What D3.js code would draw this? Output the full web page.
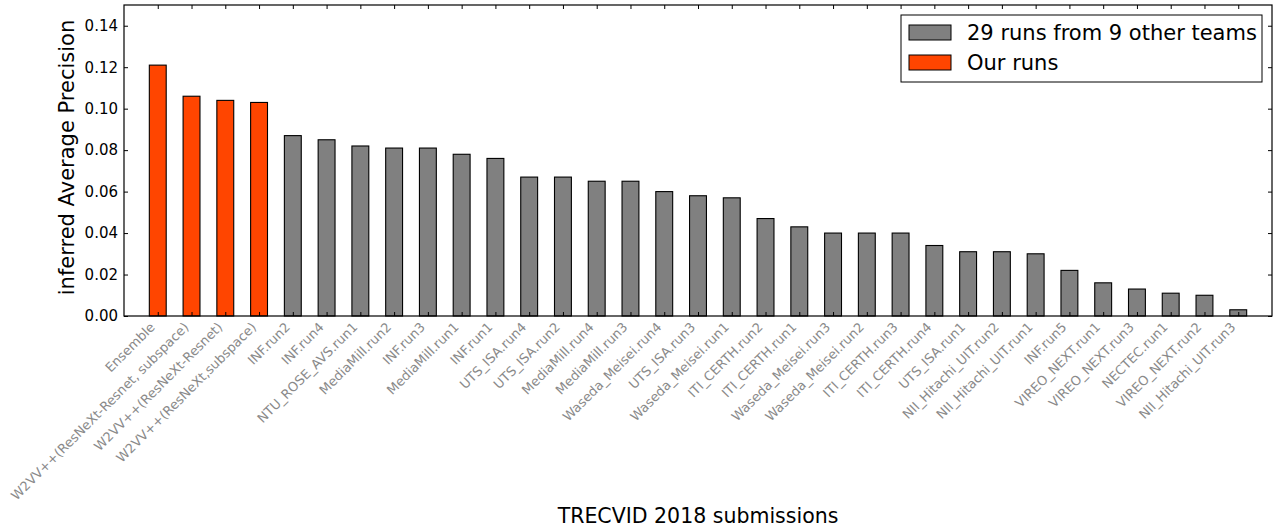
<!DOCTYPE html>
<html>
<head>
<meta charset="utf-8">
<script src="https://cdn.jsdelivr.net/npm/d3@7"></script>
<style>
  html, body { margin: 0; padding: 0; background: #fff; }
  svg { display: block; font-family: "DejaVu Sans", sans-serif; }
</style>
</head>
<body>
<svg id="chart" width="1276" height="529"></svg>
<script>
// Run names, in ranked order (our runs first)
const runs = [
  "Ensemble",
  "W2VV++(ResNeXt-Resnet, subspace)",
  "W2VV++(ResNeXt-Resnet)",
  "W2VV++(ResNeXt,subspace)",
  "INF.run2", "INF.run4", "NTU_ROSE_AVS.run1", "MediaMill.run2", "INF.run3",
  "MediaMill.run1", "INF.run1", "UTS_ISA.run4", "UTS_ISA.run2", "MediaMill.run4",
  "MediaMill.run3", "Waseda_Meisei.run4", "UTS_ISA.run3", "Waseda_Meisei.run1",
  "ITI_CERTH.run2", "ITI_CERTH.run1", "Waseda_Meisei.run3", "Waseda_Meisei.run2",
  "ITI_CERTH.run3", "ITI_CERTH.run4", "UTS_ISA.run1", "NII_Hitachi_UIT.run2",
  "NII_Hitachi_UIT.run1", "INF.run5", "VIREO_NEXT.run1", "VIREO_NEXT.run3",
  "NECTEC.run1", "VIREO_NEXT.run2", "NII_Hitachi_UIT.run3"
];

// inferred Average Precision per run
const infAP = [
  0.121, 0.106, 0.104, 0.103,
  0.087, 0.085, 0.082, 0.081, 0.081,
  0.078, 0.076, 0.067, 0.067, 0.065,
  0.065, 0.060, 0.058, 0.057,
  0.047, 0.043, 0.040, 0.040,
  0.040, 0.034, 0.031, 0.031,
  0.030, 0.022, 0.016, 0.013,
  0.011, 0.010, 0.003
];

// true = one of our runs
const isOurs = runs.map((r, i) => i < 4);

const yTicks = [0.00, 0.02, 0.04, 0.06, 0.08, 0.10, 0.12, 0.14];

const legendLabels = ["29 runs from 9 other teams", "Our runs"];
const legendColors = ["#808080", "#ff4500"];

const W = 1276, H = 529;
const margin = { top: 5, right: 4, bottom: 213, left: 124 };
const iw = W - margin.left - margin.right;
const ih = H - margin.top - margin.bottom;

const svg = d3.select("#chart");
const g = svg.append("g").attr("transform", `translate(${margin.left},${margin.top})`);

// bars sit at positions 1..N, axis spans 0..N+1
const x = d3.scaleLinear().domain([0, runs.length + 1]).range([0, iw]);
const y = d3.scaleLinear().domain([0, 0.15]).range([ih, 0]);
const barW = x(0.5) - x(0);

// bars
g.selectAll("rect.bar")
  .data(infAP)
  .join("rect")
  .attr("class", "bar")
  .attr("x", (d, i) => x(i + 1) - barW / 2)
  .attr("y", d => y(d))
  .attr("width", barW)
  .attr("height", d => y(0) - y(d))
  .attr("fill", (d, i) => isOurs[i] ? legendColors[1] : legendColors[0])
  .attr("stroke", "#000")
  .attr("stroke-width", 1.1);

const positions = runs.map((r, i) => i + 1);

// bottom axis: inward ticks, rotated grey labels
const xAxis = g.append("g")
  .attr("transform", `translate(0,${ih})`)
  .call(d3.axisBottom(x).tickValues(positions).tickSizeInner(-4).tickSizeOuter(0).tickFormat(""));
xAxis.select(".domain").remove();
xAxis.selectAll(".tick line").attr("stroke", "#000");

g.append("g")
  .selectAll("text")
  .data(runs)
  .join("text")
  .attr("transform", (d, i) => `translate(${x(i + 1) - 2},${ih + 12}) rotate(-45)`)
  .attr("text-anchor", "end")
  .attr("fill", "#8a8a8a")
  .attr("font-size", 13)
  .text(d => d);

// top axis: inward ticks only
const xTop = g.append("g")
  .call(d3.axisTop(x).tickValues(positions).tickSizeInner(-4).tickSizeOuter(0).tickFormat(""));
xTop.select(".domain").remove();

// left axis
const yAxis = g.append("g")
  .call(d3.axisLeft(y).tickValues(yTicks).tickSizeInner(-4).tickSizeOuter(0)
    .tickPadding(6).tickFormat(d3.format(".2f")));
yAxis.select(".domain").remove();
yAxis.selectAll(".tick text")
  .attr("font-size", 15)
  .attr("font-family", "DejaVu Sans, sans-serif")
  .attr("fill", "#000");

// right axis: inward ticks only
const yRight = g.append("g")
  .attr("transform", `translate(${iw},0)`)
  .call(d3.axisRight(y).tickValues(yTicks).tickSizeInner(-4).tickSizeOuter(0).tickFormat(""));
yRight.select(".domain").remove();

// frame
g.append("rect")
  .attr("width", iw)
  .attr("height", ih)
  .attr("fill", "none")
  .attr("stroke", "#000")
  .attr("stroke-width", 1.2);

// axis titles
g.append("text")
  .attr("transform", `translate(${67 - margin.left},${ih / 2 - 3}) rotate(-90)`)
  .attr("text-anchor", "middle")
  .attr("dominant-baseline", "central")
  .attr("font-size", 21)
  .text("inferred Average Precision");

svg.append("text")
  .attr("x", margin.left + iw / 2)
  .attr("y", 523)
  .attr("text-anchor", "middle")
  .attr("font-size", 20.5)
  .text("TRECVID 2018 submissions");

// legend
const legend = svg.append("g").attr("transform", "translate(901,15)");
legend.append("rect")
  .attr("width", 361)
  .attr("height", 67)
  .attr("fill", "#fff")
  .attr("stroke", "#000")
  .attr("stroke-width", 1);

const items = legend.selectAll("g.item")
  .data(legendLabels)
  .join("g")
  .attr("class", "item")
  .attr("transform", (d, i) => `translate(0,${10 + i * 30})`);
items.append("rect")
  .attr("x", 8)
  .attr("width", 42)
  .attr("height", 15)
  .attr("fill", (d, i) => legendColors[i])
  .attr("stroke", "#000")
  .attr("stroke-width", 1);
items.append("text")
  .attr("x", 66)
  .attr("y", 7.5)
  .attr("dominant-baseline", "central")
  .attr("font-size", 21)
  .text(d => d);
</script>
</body>
</html>
